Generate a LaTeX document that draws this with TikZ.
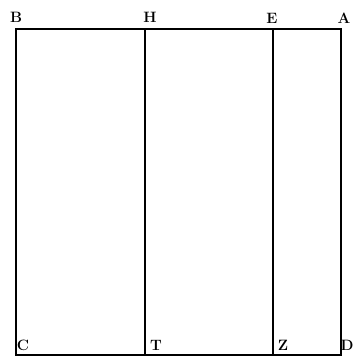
\documentclass[tikz,border=0pt]{standalone}
\usetikzlibrary{positioning}

\begin{document}
\begin{tikzpicture}[x=1pt, y=1pt, line width=1.4pt,
    lbl/.style={font=\fontsize{15}{15}\selectfont\bfseries, inner sep=0pt}]

    \useasboundingbox (0,0) rectangle (353,360);

    % corners of the rectangle and feet of the two dividing lines
    \coordinate (B) at (16,331);
    \coordinate (A) at (341,331);
    \coordinate (C) at (16,5);
    \coordinate (D) at (341,5);
    \coordinate (H) at (145,331);
    \coordinate (T) at (145,5);
    \coordinate (E) at (273,331);
    \coordinate (Z) at (273,5);

    \draw (B) rectangle (D);
    \draw (H) -- (T);
    \draw (E) -- (Z);

    % letters along the top
    \node[lbl] (lB) at (16,343) {B};
    \node[lbl] (lH) at (150,343) {H};
    \node[lbl] (lE) at (272,342) {E};
    \node[lbl] (lA) at (344,342) {A};

    % letters inside the bottom corners
    \node[lbl] (lC) at (23,15) {C};
    \node[lbl] (lT) at (156,15) {T};
    \node[lbl] (lZ) at (283,15) {Z};
    \node[lbl] (lD) at (347,15) {D};

\end{tikzpicture}
\end{document}
